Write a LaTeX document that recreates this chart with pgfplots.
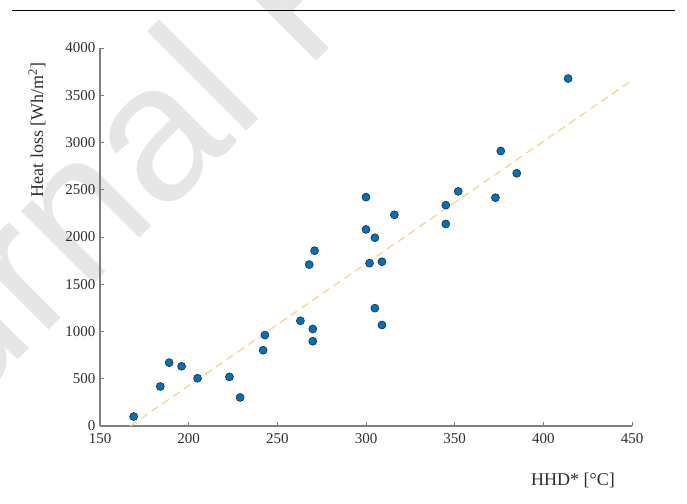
\documentclass[border=0pt]{standalone}
\usepackage{fontspec}
\setmainfont{Liberation Serif}
\newfontfamily\wmfont{Liberation Sans}
\usepackage{pgfplots}
\pgfplotsset{compat=1.18}
\definecolor{mblue}{HTML}{0072BD}
\definecolor{medge}{HTML}{2B2B2B}
\definecolor{trend}{HTML}{F6D690}
\definecolor{axgray}{HTML}{7F7F7F}
\definecolor{txtgray}{HTML}{2E2E2E}
\definecolor{wmgray}{HTML}{E6E6E6}

\begin{document}
\begin{tikzpicture}
\path[use as bounding box] (0,0) rectangle (687bp,504bp);
% watermark
\begin{scope}
\clip (0,0) rectangle (687bp,504bp);
\node[anchor=base west,rotate=45,inner sep=0,outer sep=0,text=wmgray,font=\wmfont\fontsize{194bp}{194bp}\selectfont]
  at (237.5bp,363bp) {l Pre-proof};
\node[anchor=base east,rotate=45,inner sep=0,outer sep=0,text=wmgray,font=\wmfont\fontsize{194bp}{194bp}\selectfont]
  at (237.5bp,363bp) {Journa};
\end{scope}
\draw[line width=0.8bp,black] (12bp,494bp) -- (675bp,494bp);

\begin{axis}[
 at={(100bp,78bp)},anchor=south west,
 scale only axis,width=532bp,height=378bp,
 xmin=150,xmax=450,ymin=0,ymax=4000,
 xtick={150,200,...,450},ytick={0,500,...,4000},
 xticklabels={150,200,250,300,350,400,450},
 yticklabels={0,500,1000,1500,2000,2500,3000,3500,4000},
 axis lines*=left,
 axis line style={-,draw=axgray,line width=1.1bp},
 tick style={draw=axgray,line width=0.8bp},
 tick align=inside,major tick length=4bp,
 tick label style={font=\rmfamily\fontsize{15bp}{18bp}\selectfont,text=txtgray},
 xticklabel style={yshift=-4bp},
 yticklabel style={xshift=-1bp},
 clip=false
]
\addplot[trend,dashed,dash pattern=on 8bp off 5bp,line width=1.3bp] coordinates {(167,0) (449,3645)};
\addplot[only marks,mark=*,mark size=4bp,
  mark options={fill=mblue,draw=medge,line width=0.6bp}] coordinates {
 (169,100) (184,418) (189,670) (196,632) (205,505) (223,520) (229,302)
 (242,802) (243,962) (263,1113) (270,1027) (270,897) (268,1708) (271,1855)
 (300,2422) (300,2080) (302,1723) (305,1992) (309,1738) (305,1247) (309,1069)
 (316,2235) (345,2337) (345,2138) (352,2483) (373,2416) (376,2910) (385,2674)
 (414,3677)
};
\end{axis}

\node[rotate=90,text=txtgray,font=\fontsize{18bp}{21bp}\selectfont] at (37bp,374bp) {Heat loss [Wh/m\textsuperscript{2}]};
\node[text=txtgray,font=\fontsize{18bp}{21bp}\selectfont] at (573bp,24bp) {HHD* [°C]};
\end{tikzpicture}
\end{document}
